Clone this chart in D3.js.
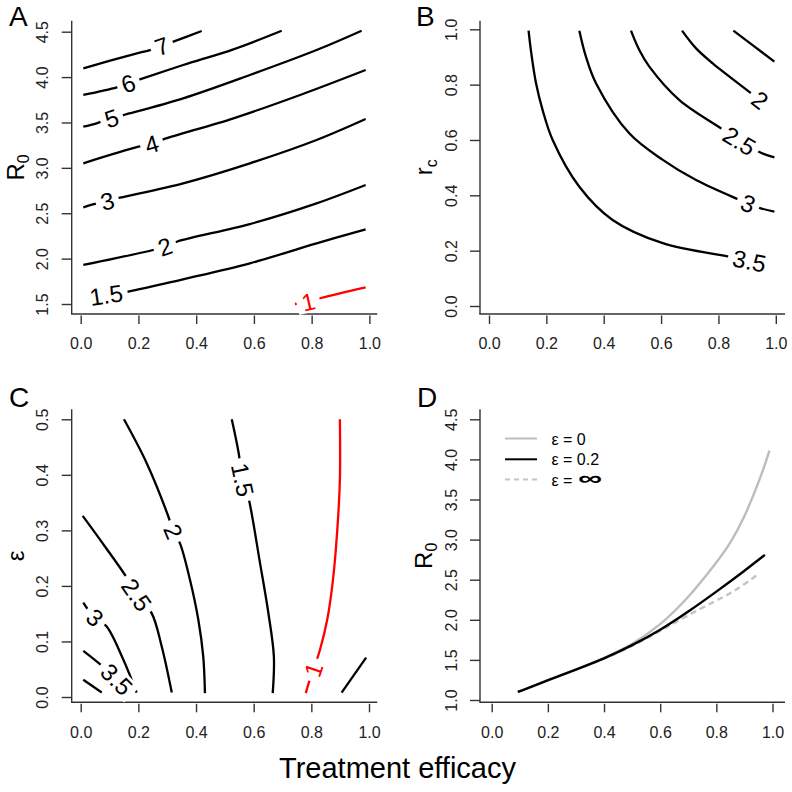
<!DOCTYPE html>
<html><head><meta charset="utf-8">
<script src="https://cdn.jsdelivr.net/npm/d3@7"></script>
<style>
body{margin:0;background:#fff}
svg{display:block}
text{font-family:"Liberation Sans", Arial, Helvetica, sans-serif}
</style>
</head><body>
<svg id="c" width="792" height="792"></svg>
<script>
// ---------------- DATA ----------------
const ticks01 = [0, 0.2, 0.4, 0.6, 0.8, 1.0];
const yTicksA = [1.5, 2.0, 2.5, 3.0, 3.5, 4.0, 4.5];
const yTicksB = [0, 0.2, 0.4, 0.6, 0.8, 1.0];
const yTicksC = [0, 0.1, 0.2, 0.3, 0.4, 0.5];
const yTicksD = [1.0, 1.5, 2.0, 2.5, 3.0, 3.5, 4.0, 4.5];

// Panel A contours (x = treatment efficacy, y = R0); li = index of label point
const contoursA = [
  {level:"7", li:3, pts:[[.009,4.097],[.182,4.251],[.240,4.298],[.281,4.342],[.321,4.390],[.419,4.508]]},
  {level:"6", li:2, pts:[[.009,3.803],[.125,3.887],[.165,3.931],[.205,3.975],[.355,4.133],[.529,4.306],[.696,4.511]]},
  {level:"5", li:2, pts:[[.009,3.453],[.055,3.491],[.107,3.546],[.148,3.582],[.355,3.766],[.586,4.023],[.817,4.298],[.973,4.511]]},
  {level:"4", li:2, pts:[[.009,3.050],[.200,3.233],[.246,3.263],[.286,3.314],[.529,3.546],[.760,3.803],[.987,4.078]]},
  {level:"3", li:2, pts:[[.009,2.565],[.050,2.602],[.092,2.635],[.136,2.671],[.355,2.830],[.586,3.050],[.817,3.307],[.987,3.538]]},
  {level:"2", li:2, pts:[[.009,1.930],[.251,2.095],[.292,2.131],[.333,2.186],[.586,2.381],[.817,2.609],[.987,2.811]]},
  {level:"1.5", li:0, pts:[[.088,1.599],[.165,1.636],[.355,1.772],[.586,1.948],[.817,2.169],[.987,2.323]]},
  {level:"1", li:1, red:true, pts:[[.742,1.500],[.788,1.525],[.835,1.569],[.987,1.684]]}
];

// Panel B contours (x = treatment efficacy, y = r_c)
const contoursB = [
  {level:"3.5", li:9, pts:[[.138,.995],[.146,.925],[.164,.805],[.187,.708],[.222,.600],[.315,.431],[.431,.311],[.606,.227],[.838,.178],[.908,.163]]},
  {level:"3", li:7, pts:[[.315,.995],[.338,.901],[.373,.805],[.489,.624],[.606,.528],[.722,.455],[.861,.389],[.904,.371],[.948,.353],[.995,.341]]},
  {level:"2.5", li:5, pts:[[.495,.995],[.524,.925],[.559,.865],[.664,.744],[.809,.642],[.873,.597],[.948,.554],[.995,.537]]},
  {level:"2", li:4, pts:[[.673,.995],[.722,.931],[.780,.877],[.914,.769],[.945,.744]]},
  {level:"1.5", li:null, pts:[[.852,.995],[.919,.943],[.995,.883]]}
];

// Panel C contours (x = treatment efficacy, y = epsilon)
const contoursC = [
  {level:"2", li:3, pts:[[.150,.500],[.229,.421],[.304,.325],[.321,.298],[.344,.277],[.379,.211],[.408,.139],[.425,.073],[.431,.007]]},
  {level:"1.5", li:2, pts:[[.524,.500],[.547,.442],[.562,.391],[.581,.361],[.622,.241],[.651,.151],[.670,.073],[.666,.007]]},
  {level:"1", li:6, red:true, pts:[[.899,.500],[.899,.391],[.890,.301],[.875,.211],[.855,.139],[.830,.085],[.807,.049],[.789,.022],[.781,.007]]},
  {level:"0.8", li:null, pts:[[.905,.008],[.990,.071]]},
  {level:"2.5", li:3, pts:[[.007,.326],[.084,.271],[.157,.217],[.194,.184],[.246,.151],[.281,.091],[.316,.008]]},
  {level:"3", li:2, pts:[[.009,.170],[.026,.157],[.050,.143],[.090,.127],[.148,.067],[.194,.008]]},
  {level:"3.5", li:2, pts:[[.009,.083],[.067,.059],[.125,.032],[.160,.010]]},
  {level:"4", li:null, pts:[[.009,.031],[.073,.008]]}
];

// Panel D curves (x = treatment efficacy, y = R0)
const effEps0   = [0.093, 0.2, 0.3, 0.4, 0.5, 0.6, 0.7, 0.8, 0.85, 0.9, 0.94, 0.97, 0.989];
const r0Eps0    = [1.10, 1.245, 1.38, 1.52, 1.69, 1.93, 2.27, 2.71, 2.95, 3.28, 3.62, 3.90, 4.11];
const effEps02  = [0.093, 0.2, 0.3, 0.4, 0.5, 0.6, 0.7, 0.8, 0.9, 0.973];
const r0Eps02   = [1.10, 1.245, 1.38, 1.515, 1.68, 1.87, 2.10, 2.35, 2.61, 2.81];
const effEpsInf = [0.093, 0.2, 0.3, 0.4, 0.5, 0.6, 0.7, 0.8, 0.85, 0.9, 0.953];
const r0EpsInf  = [1.10, 1.245, 1.38, 1.51, 1.67, 1.86, 2.06, 2.24, 2.33, 2.44, 2.58];
const legendLabels = ["ε = 0", "ε = 0.2", "ε = "];

// ---------------- DRAW ----------------
const svg = d3.select("#c");
const AX = "#333", TXT = "#222";

function panel(o){
  const g = svg.append("g");
  const x = d3.scaleLinear().domain([0,1]).range(o.xr);
  const y = d3.scaleLinear().domain(o.yd).range(o.yr);
  g.append("line").attr("x1",o.left).attr("x2",o.left).attr("y1",o.top).attr("y2",o.bottom)
    .attr("stroke",AX).attr("stroke-width",1.4);
  g.append("line").attr("x1",o.left-0.7).attr("x2",o.right).attr("y1",o.bottom).attr("y2",o.bottom)
    .attr("stroke",AX).attr("stroke-width",1.4);
  const xa = g.append("g").attr("transform",`translate(0,${o.bottom+1.5})`)
    .call(d3.axisBottom(x).tickValues(ticks01).tickFormat(d3.format(".1f")).tickSize(8.5).tickPadding(14));
  xa.select(".domain").remove();
  xa.selectAll("line").attr("stroke",AX).attr("stroke-width",1.4);
  xa.selectAll("text").attr("font-size",16).attr("fill",TXT).attr("font-family",null);
  const ya = g.append("g").attr("transform",`translate(${o.left},0)`)
    .call(d3.axisLeft(y).tickValues(o.yt).tickFormat(d3.format(".1f")).tickSize(10));
  ya.select(".domain").remove();
  ya.selectAll("line").attr("stroke",AX).attr("stroke-width",1.4);
  ya.selectAll("text").attr("font-size",16).attr("fill",TXT).attr("font-family",null)
    .attr("x",null).attr("dy",null).attr("text-anchor","middle")
    .attr("transform","translate(-23.5,0) rotate(-90)");
  const yt = g.append("text").attr("transform",`translate(${o.left-48},${(o.top+o.bottom)/2}) rotate(-90)`)
    .attr("text-anchor","middle").attr("font-size",24).attr("fill","#000");
  yt.append("tspan").text(o.title);
  if(o.sub) yt.append("tspan").attr("font-size",16).attr("dy",5).text(o.sub);
  g.append("text").attr("x",o.lx).attr("y",o.ly).attr("font-size",28).attr("fill","#000").text(o.letter);
  return {g,x,y};
}

function drawContours(p, list){
  const line = d3.line().x(d=>p.x(d[0])).y(d=>p.y(d[1])).curve(d3.curveCatmullRom.alpha(0.5));
  list.forEach(c=>{
    p.g.append("path").attr("d",line(c.pts)).attr("fill","none")
      .attr("stroke",c.red?"#ff0000":"#000").attr("stroke-width",2.3);
  });
  list.filter(c=>c.li!==null).forEach(c=>{
    const n=c.pts.length, pt=c.pts[c.li], a=c.pts[Math.max(c.li-1,0)], b=c.pts[Math.min(c.li+1,n-1)];
    let ang=Math.atan2(p.y(b[1])-p.y(a[1]), p.x(b[0])-p.x(a[0]))*180/Math.PI;
    if(ang>90) ang-=180; if(ang<=-90) ang+=180;
    const lg=p.g.append("g").attr("transform",`translate(${p.x(pt[0])},${p.y(pt[1])}) rotate(${ang})`);
    const r=lg.append("rect").attr("fill","#fff");
    const t=lg.append("text").attr("text-anchor","middle").attr("dy","0.36em").attr("font-size",24)
      .attr("fill",c.red?"#ff0000":"#000").text(c.level);
    const w=t.node().getComputedTextLength();
    r.attr("x",-w/2-5).attr("y",-11).attr("width",w+10).attr("height",22);
  });
}

const pA = panel({xr:[80.7,369.4], yd:[1.5,4.5], yr:[304,31.7], yt:yTicksA, left:71.7, right:377.3, top:20.7, bottom:314,
  title:"R", sub:"0", letter:"A", lx:9, ly:26});
drawContours(pA, contoursA);

const pB = panel({xr:[489,775.8], yd:[0,1], yr:[306,29.3], yt:yTicksB, left:480, right:785, top:20.7, bottom:314,
  title:"r", sub:"c", letter:"B", lx:416, ly:26});
drawContours(pB, contoursB);

const pC = panel({xr:[80.7,369], yd:[0,0.5], yr:[697,419.3], yt:yTicksC, left:71.7, right:377.3, top:409.3, bottom:702.3,
  title:"ε", sub:null, letter:"C", lx:9, ly:407});
drawContours(pC, contoursC);

const pD = panel({xr:[491.7,772.5], yd:[1,4.5], yr:[700,419.3], yt:yTicksD, left:480, right:785, top:409.3, bottom:702.3,
  title:"R", sub:"0", letter:"D", lx:417, ly:407});
{
  const mk = (xs,ys)=>xs.map((v,i)=>[v,ys[i]]);
  const line = d3.line().x(d=>pD.x(d[0])).y(d=>pD.y(d[1])).curve(d3.curveBasis);
  pD.g.append("path").attr("d",line(mk(effEps0,r0Eps0))).attr("fill","none").attr("stroke","#bdbdbd").attr("stroke-width",2.4);
  pD.g.append("path").attr("d",line(mk(effEpsInf,r0EpsInf))).attr("fill","none").attr("stroke","#c4c4c4").attr("stroke-width",2.4).attr("stroke-dasharray","6,4");
  pD.g.append("path").attr("d",line(mk(effEps02,r0Eps02))).attr("fill","none").attr("stroke","#000").attr("stroke-width",2.4);
  const ly=[438.5,459.3,479.5], cols=["#bdbdbd","#000","#c4c4c4"], dash=[null,null,"5,4"];
  legendLabels.forEach((s,i)=>{
    pD.g.append("line").attr("x1",505).attr("x2",537).attr("y1",ly[i]).attr("y2",ly[i])
      .attr("stroke",cols[i]).attr("stroke-width",2).attr("stroke-dasharray",dash[i]);
    pD.g.append("text").attr("x",551.5).attr("y",ly[i]+6).attr("font-size",16).attr("fill","#000").text(s);
  });
  pD.g.append("text").attr("x",578).attr("y",485).attr("font-size",20).attr("font-weight","bold")
    .attr("font-family","DejaVu Sans").attr("textLength",24).attr("lengthAdjust","spacingAndGlyphs")
    .attr("fill","#000").text("∞");
}

svg.append("text").attr("x",397.5).attr("y",778).attr("text-anchor","middle").attr("font-size",29).attr("fill","#000")
  .text("Treatment efficacy");
</script>
</body></html>
